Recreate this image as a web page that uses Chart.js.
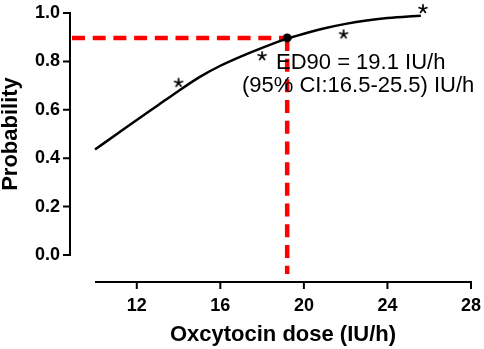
<!DOCTYPE html>
<html>
<head>
<meta charset="utf-8">
<script src="https://cdn.jsdelivr.net/npm/chart.js@4/dist/chart.umd.min.js"></script>
<style>
html,body{margin:0;padding:0;background:#fff;}
#wrap{width:484px;height:349px;}
</style>
</head>
<body>
<div id="wrap"><canvas id="c" width="484" height="349"></canvas></div>
<script>
// ---- data ----
const curveX = [10, 11, 12, 13, 14, 15, 16, 17, 18, 19, 20, 21, 22, 23, 24, 25, 25.6];
const curveY = [0.436, 0.497, 0.558, 0.618, 0.678, 0.735, 0.782, 0.821, 0.856, 0.888, 0.914, 0.937, 0.955, 0.969, 0.979, 0.986, 0.989];
const obsX = [14, 18, 21.9, 25.7];
const obsY = [0.712, 0.822, 0.912, 1.017];
const ed90X = [19.2];
const ed90Y = [0.897];
const xTicks = [12, 16, 20, 24, 28];
const yTicks = [0, 0.2, 0.4, 0.6, 0.8, 1.0];
const xTitle = 'Oxcytocin dose (IU/h)';
const yTitle = 'Probability';
const noteLines = ['ED90 = 19.1 IU/h', '(95% CI:16.5-25.5) IU/h'];

const FONT = '"Liberation Sans", Arial, Helvetica, sans-serif';

// asterisk marker image (5-armed, like the font glyph)
function makeStar() {
  const S = 12;
  const c = document.createElement('canvas');
  c.width = S; c.height = S;
  const g = c.getContext('2d');
  g.strokeStyle = '#000';
  g.lineWidth = 1.7;
  g.lineCap = 'butt';
  const cx = S / 2, cy = S / 2, r = 4.8;
  g.beginPath();
  for (let k = 0; k < 5; k++) {
    const a = -Math.PI / 2 + k * 2 * Math.PI / 5;
    g.moveTo(cx, cy);
    g.lineTo(cx + r * Math.cos(a), cy + r * Math.sin(a));
  }
  g.stroke();
  return c;
}
const star = makeStar();

function noPad(s) {
  s.paddingLeft = 0; s.paddingRight = 0; s.paddingTop = 0; s.paddingBottom = 0;
}

const refPlugin = {
  id: 'refAxes',
  beforeDatasetsDraw(chart) {
    const {ctx, chartArea, scales: {x, y}} = chart;
    const yAxisX = chartArea.left - 25;
    const xAxisY = chartArea.bottom + 27;
    ctx.save();
    // axes
    ctx.strokeStyle = '#000';
    ctx.lineWidth = 2;
    ctx.beginPath();
    ctx.moveTo(yAxisX, y.getPixelForValue(yTicks[yTicks.length - 1]) - 1);
    ctx.lineTo(yAxisX, y.getPixelForValue(yTicks[0]) + 1);
    yTicks.forEach(v => {
      const py = y.getPixelForValue(v);
      ctx.moveTo(yAxisX - 7, py);
      ctx.lineTo(yAxisX, py);
    });
    ctx.moveTo(x.getPixelForValue(x.min), xAxisY);
    ctx.lineTo(x.getPixelForValue(x.max) + 1, xAxisY);
    xTicks.forEach(v => {
      const px = x.getPixelForValue(v);
      ctx.moveTo(px, xAxisY);
      ctx.lineTo(px, xAxisY + 7);
    });
    ctx.stroke();
    // red reference lines
    const ex = x.getPixelForValue(ed90X[0]);
    const ey = y.getPixelForValue(ed90Y[0]);
    ctx.strokeStyle = '#ff0000';
    ctx.lineWidth = 4.5;
    ctx.setLineDash([13, 7.7]);
    ctx.beginPath();
    ctx.moveTo(yAxisX + 2, ey);
    ctx.lineTo(ex, ey);
    ctx.stroke();
    ctx.beginPath();
    ctx.moveTo(ex, ey);
    ctx.lineTo(ex, xAxisY - 8);
    ctx.stroke();
    ctx.restore();
  },
  afterDatasetsDraw(chart) {
    const {ctx, chartArea} = chart;
    ctx.save();
    ctx.fillStyle = '#000';
    ctx.font = '22px ' + FONT;
    ctx.textBaseline = 'alphabetic';
    ctx.textAlign = 'left';
    ctx.fillText(noteLines[0], chartArea.left + 181, 69);
    ctx.fillText(noteLines[1], chartArea.left + 147, 92);
    ctx.restore();
  }
};

new Chart(document.getElementById('c'), {
  type: 'scatter',
  data: {
    datasets: [
      {
        data: curveX.map((v, i) => ({x: v, y: curveY[i]})),
        showLine: true,
        borderColor: '#000',
        borderWidth: 2.5,
        pointRadius: 0,
        cubicInterpolationMode: 'monotone',
        clip: false,
        order: 3
      },
      {
        data: obsX.map((v, i) => ({x: v, y: obsY[i]})),
        pointStyle: star,
        pointRadius: 6,
        clip: false,
        order: 2
      },
      {
        data: ed90X.map((v, i) => ({x: v, y: ed90Y[i]})),
        pointRadius: 4.5,
        backgroundColor: '#000',
        borderColor: '#000',
        borderWidth: 0,
        clip: false,
        order: 1
      }
    ]
  },
  options: {
    responsive: false,
    animation: false,
    events: [],
    layout: {padding: {left: 0, right: 13, top: 13, bottom: 3}},
    plugins: {legend: {display: false}, tooltip: {enabled: false}},
    scales: {
      x: {
        type: 'linear',
        min: 10,
        max: 28,
        afterBuildTicks: s => { s.ticks = xTicks.map(v => ({value: v})); },
        afterFit: s => { s.height = 91; noPad(s); },
        grid: {display: false, drawTicks: false},
        border: {display: false},
        ticks: {
          color: '#000',
          padding: 40,
          maxRotation: 0,
          font: {family: FONT, size: 18, weight: 'bold'}
        },
        title: {
          display: true,
          text: xTitle,
          color: '#000',
          padding: 0,
          font: {family: FONT, size: 22, weight: 'bold', lineHeight: 1}
        }
      },
      y: {
        type: 'linear',
        min: 0,
        max: 1,
        afterBuildTicks: s => { s.ticks = yTicks.map(v => ({value: v})); },
        afterFit: s => { s.width = 95; noPad(s); },
        grid: {display: false, drawTicks: false},
        border: {display: false},
        ticks: {
          color: '#000',
          padding: 35,
          callback: v => Number(v).toFixed(1),
          font: {family: FONT, size: 18, weight: 'bold'}
        },
        title: {
          display: true,
          text: yTitle,
          color: '#000',
          padding: 0,
          font: {family: FONT, size: 22, weight: 'bold', lineHeight: 1}
        }
      }
    }
  },
  plugins: [refPlugin]
});
</script>
</body>
</html>
